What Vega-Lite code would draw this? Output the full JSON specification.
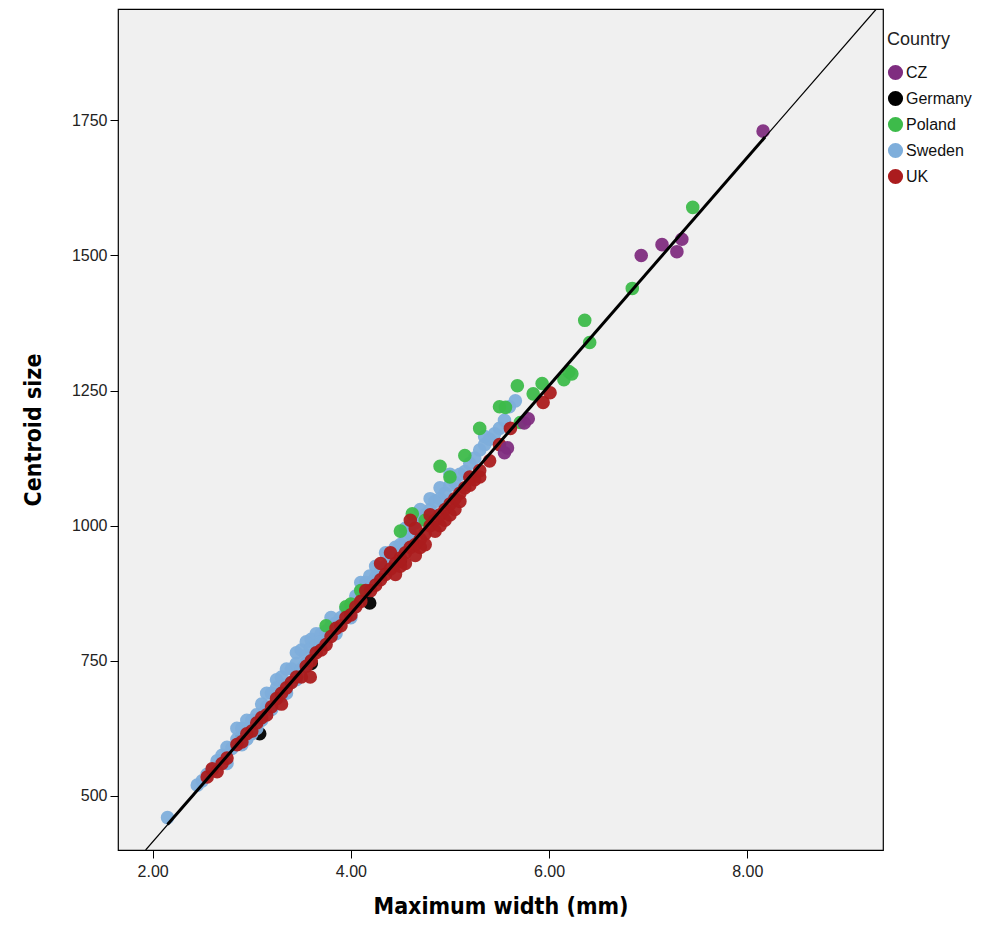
{
  "$schema": "https://vega.github.io/schema/vega-lite/v6.json",
  "width": 765,
  "height": 841,
  "autosize": {"type": "none"},
  "padding": {"left": 118, "top": 9, "right": 115, "bottom": 89},
  "background": "#ffffff",
  "config": {
    "view": {"fill": "#f0f0f0", "stroke": "#000000", "strokeWidth": 1.2},
    "font": "Liberation Sans",
    "axis": {
      "domain": false,
      "grid": false,
      "ticks": true,
      "tickColor": "#000000",
      "tickSize": 8,
      "labelFont": "Liberation Sans",
      "labelFontSize": 16,
      "labelColor": "#222222",
      "titleFont": "Liberation Sans Narrow, DejaVu Sans Condensed, Liberation Sans",
      "titleFontSize": 23,
      "titleFontWeight": "bold",
      "titleColor": "#000000"
    },
    "legend": {
      "titleFont": "Liberation Sans",
      "titleFontSize": 18,
      "titleFontWeight": "normal",
      "titleColor": "#222222",
      "labelFont": "Liberation Sans",
      "labelFontSize": 16,
      "labelColor": "#111111"
    }
  },
  "datasets": {
    "pts": [
      {"c": "Germany", "w": 3.08, "cs": 615},
      {"c": "Germany", "w": 4.19, "cs": 857},
      {"c": "Germany", "w": 3.6, "cs": 745},
      {"c": "Germany", "w": 2.9, "cs": 610},
      {"c": "Germany", "w": 4.5, "cs": 935},
      {"c": "Sweden", "w": 2.15, "cs": 460},
      {"c": "Sweden", "w": 2.45, "cs": 520},
      {"c": "Sweden", "w": 2.5, "cs": 528},
      {"c": "Sweden", "w": 2.55, "cs": 540},
      {"c": "Sweden", "w": 2.6, "cs": 548},
      {"c": "Sweden", "w": 2.65, "cs": 565},
      {"c": "Sweden", "w": 2.7, "cs": 575},
      {"c": "Sweden", "w": 2.75, "cs": 590},
      {"c": "Sweden", "w": 2.75, "cs": 560},
      {"c": "Sweden", "w": 2.8, "cs": 588},
      {"c": "Sweden", "w": 2.85, "cs": 605},
      {"c": "Sweden", "w": 2.85, "cs": 625},
      {"c": "Sweden", "w": 2.9, "cs": 625},
      {"c": "Sweden", "w": 2.9, "cs": 595},
      {"c": "Sweden", "w": 2.95, "cs": 605},
      {"c": "Sweden", "w": 2.95, "cs": 640},
      {"c": "Sweden", "w": 3.0, "cs": 640},
      {"c": "Sweden", "w": 3.0, "cs": 615},
      {"c": "Sweden", "w": 3.05, "cs": 650},
      {"c": "Sweden", "w": 3.05, "cs": 625},
      {"c": "Sweden", "w": 3.1, "cs": 640},
      {"c": "Sweden", "w": 3.1, "cs": 670},
      {"c": "Sweden", "w": 3.15, "cs": 665},
      {"c": "Sweden", "w": 3.15, "cs": 690},
      {"c": "Sweden", "w": 3.2, "cs": 690},
      {"c": "Sweden", "w": 3.2, "cs": 660},
      {"c": "Sweden", "w": 3.25, "cs": 700},
      {"c": "Sweden", "w": 3.25, "cs": 715},
      {"c": "Sweden", "w": 3.3, "cs": 685},
      {"c": "Sweden", "w": 3.3, "cs": 720},
      {"c": "Sweden", "w": 3.35, "cs": 705},
      {"c": "Sweden", "w": 3.35, "cs": 690},
      {"c": "Sweden", "w": 3.35, "cs": 735},
      {"c": "Sweden", "w": 3.4, "cs": 735},
      {"c": "Sweden", "w": 3.4, "cs": 710},
      {"c": "Sweden", "w": 3.45, "cs": 745},
      {"c": "Sweden", "w": 3.45, "cs": 715},
      {"c": "Sweden", "w": 3.45, "cs": 765},
      {"c": "Sweden", "w": 3.5, "cs": 735},
      {"c": "Sweden", "w": 3.5, "cs": 770},
      {"c": "Sweden", "w": 3.55, "cs": 760},
      {"c": "Sweden", "w": 3.55, "cs": 745},
      {"c": "Sweden", "w": 3.55, "cs": 785},
      {"c": "Sweden", "w": 3.6, "cs": 775},
      {"c": "Sweden", "w": 3.6, "cs": 790},
      {"c": "Sweden", "w": 3.65, "cs": 780},
      {"c": "Sweden", "w": 3.65, "cs": 800},
      {"c": "Sweden", "w": 3.7, "cs": 800},
      {"c": "Sweden", "w": 3.7, "cs": 785},
      {"c": "Sweden", "w": 3.75, "cs": 805},
      {"c": "Sweden", "w": 3.8, "cs": 815},
      {"c": "Sweden", "w": 3.8, "cs": 830},
      {"c": "Sweden", "w": 3.85, "cs": 820},
      {"c": "Sweden", "w": 3.85, "cs": 800},
      {"c": "Sweden", "w": 3.9, "cs": 830},
      {"c": "Sweden", "w": 3.95, "cs": 845},
      {"c": "Sweden", "w": 4.0, "cs": 850},
      {"c": "Sweden", "w": 4.0, "cs": 830},
      {"c": "Sweden", "w": 4.05, "cs": 870},
      {"c": "Sweden", "w": 4.1, "cs": 880},
      {"c": "Sweden", "w": 4.1, "cs": 895},
      {"c": "Sweden", "w": 4.15, "cs": 895},
      {"c": "Sweden", "w": 4.19, "cs": 907},
      {"c": "Sweden", "w": 4.2, "cs": 890},
      {"c": "Sweden", "w": 4.25, "cs": 905},
      {"c": "Sweden", "w": 4.25, "cs": 925},
      {"c": "Sweden", "w": 4.3, "cs": 915},
      {"c": "Sweden", "w": 4.35, "cs": 925},
      {"c": "Sweden", "w": 4.35, "cs": 950},
      {"c": "Sweden", "w": 4.4, "cs": 940},
      {"c": "Sweden", "w": 4.45, "cs": 960},
      {"c": "Sweden", "w": 4.5, "cs": 965},
      {"c": "Sweden", "w": 4.55, "cs": 975},
      {"c": "Sweden", "w": 4.55, "cs": 995},
      {"c": "Sweden", "w": 4.6, "cs": 985},
      {"c": "Sweden", "w": 4.6, "cs": 1000},
      {"c": "Sweden", "w": 4.65, "cs": 1005},
      {"c": "Sweden", "w": 4.7, "cs": 1010},
      {"c": "Sweden", "w": 4.7, "cs": 1030},
      {"c": "Sweden", "w": 4.75, "cs": 1020},
      {"c": "Sweden", "w": 4.8, "cs": 1030},
      {"c": "Sweden", "w": 4.8, "cs": 1050},
      {"c": "Sweden", "w": 4.85, "cs": 1045},
      {"c": "Sweden", "w": 4.9, "cs": 1050},
      {"c": "Sweden", "w": 4.9, "cs": 1070},
      {"c": "Sweden", "w": 4.95, "cs": 1060},
      {"c": "Sweden", "w": 5.0, "cs": 1075},
      {"c": "Sweden", "w": 5.0, "cs": 1095},
      {"c": "Sweden", "w": 5.05, "cs": 1080},
      {"c": "Sweden", "w": 5.1, "cs": 1095},
      {"c": "Sweden", "w": 5.15, "cs": 1100},
      {"c": "Sweden", "w": 5.2, "cs": 1115},
      {"c": "Sweden", "w": 5.25, "cs": 1125},
      {"c": "Sweden", "w": 5.3, "cs": 1140},
      {"c": "Sweden", "w": 5.35, "cs": 1150},
      {"c": "Sweden", "w": 5.35, "cs": 1165},
      {"c": "Sweden", "w": 5.4, "cs": 1160},
      {"c": "Sweden", "w": 5.45, "cs": 1170},
      {"c": "Sweden", "w": 5.5, "cs": 1180},
      {"c": "Sweden", "w": 5.55, "cs": 1195},
      {"c": "Sweden", "w": 5.6, "cs": 1220},
      {"c": "Sweden", "w": 5.66, "cs": 1231},
      {"c": "Poland", "w": 3.75, "cs": 815},
      {"c": "Poland", "w": 3.95, "cs": 850},
      {"c": "Poland", "w": 4.0, "cs": 855},
      {"c": "Poland", "w": 4.1, "cs": 880},
      {"c": "Poland", "w": 4.5, "cs": 990},
      {"c": "Poland", "w": 4.62, "cs": 1022},
      {"c": "Poland", "w": 4.75, "cs": 1010},
      {"c": "Poland", "w": 4.9, "cs": 1110},
      {"c": "Poland", "w": 5.0, "cs": 1090},
      {"c": "Poland", "w": 5.15, "cs": 1130},
      {"c": "Poland", "w": 5.3, "cs": 1180},
      {"c": "Poland", "w": 5.5, "cs": 1220},
      {"c": "Poland", "w": 5.56, "cs": 1219},
      {"c": "Poland", "w": 5.68, "cs": 1259},
      {"c": "Poland", "w": 5.71, "cs": 1191},
      {"c": "Poland", "w": 5.84, "cs": 1244},
      {"c": "Poland", "w": 5.93, "cs": 1263},
      {"c": "Poland", "w": 6.15, "cs": 1270},
      {"c": "Poland", "w": 6.2, "cs": 1285},
      {"c": "Poland", "w": 6.23, "cs": 1281},
      {"c": "Poland", "w": 6.36, "cs": 1380},
      {"c": "Poland", "w": 6.41, "cs": 1339},
      {"c": "Poland", "w": 6.84, "cs": 1439},
      {"c": "Poland", "w": 7.45, "cs": 1589},
      {"c": "UK", "w": 2.55, "cs": 535},
      {"c": "UK", "w": 2.6, "cs": 550},
      {"c": "UK", "w": 2.65, "cs": 545},
      {"c": "UK", "w": 2.7, "cs": 560},
      {"c": "UK", "w": 2.75, "cs": 570},
      {"c": "UK", "w": 2.85, "cs": 595},
      {"c": "UK", "w": 2.9, "cs": 600},
      {"c": "UK", "w": 2.95, "cs": 615},
      {"c": "UK", "w": 3.0, "cs": 620},
      {"c": "UK", "w": 3.05, "cs": 635},
      {"c": "UK", "w": 3.1, "cs": 645},
      {"c": "UK", "w": 3.15, "cs": 650},
      {"c": "UK", "w": 3.2, "cs": 665},
      {"c": "UK", "w": 3.25, "cs": 680},
      {"c": "UK", "w": 3.3, "cs": 690},
      {"c": "UK", "w": 3.3, "cs": 670},
      {"c": "UK", "w": 3.35, "cs": 700},
      {"c": "UK", "w": 3.4, "cs": 710},
      {"c": "UK", "w": 3.45, "cs": 720},
      {"c": "UK", "w": 3.5, "cs": 720},
      {"c": "UK", "w": 3.55, "cs": 740},
      {"c": "UK", "w": 3.59, "cs": 720},
      {"c": "UK", "w": 3.6, "cs": 750},
      {"c": "UK", "w": 3.65, "cs": 765},
      {"c": "UK", "w": 3.7, "cs": 770},
      {"c": "UK", "w": 3.75, "cs": 780},
      {"c": "UK", "w": 3.8, "cs": 795},
      {"c": "UK", "w": 3.85, "cs": 810},
      {"c": "UK", "w": 3.9, "cs": 815},
      {"c": "UK", "w": 3.95, "cs": 830},
      {"c": "UK", "w": 4.0, "cs": 835},
      {"c": "UK", "w": 4.05, "cs": 850},
      {"c": "UK", "w": 4.1, "cs": 860},
      {"c": "UK", "w": 4.15, "cs": 880},
      {"c": "UK", "w": 4.2, "cs": 880},
      {"c": "UK", "w": 4.25, "cs": 890},
      {"c": "UK", "w": 4.3, "cs": 900},
      {"c": "UK", "w": 4.3, "cs": 930},
      {"c": "UK", "w": 4.35, "cs": 910},
      {"c": "UK", "w": 4.4, "cs": 920},
      {"c": "UK", "w": 4.4, "cs": 950},
      {"c": "UK", "w": 4.45, "cs": 930},
      {"c": "UK", "w": 4.45, "cs": 910},
      {"c": "UK", "w": 4.5, "cs": 940},
      {"c": "UK", "w": 4.5, "cs": 925},
      {"c": "UK", "w": 4.55, "cs": 950},
      {"c": "UK", "w": 4.55, "cs": 930},
      {"c": "UK", "w": 4.6, "cs": 960},
      {"c": "UK", "w": 4.6, "cs": 1010},
      {"c": "UK", "w": 4.65, "cs": 965},
      {"c": "UK", "w": 4.65, "cs": 945},
      {"c": "UK", "w": 4.65, "cs": 995},
      {"c": "UK", "w": 4.7, "cs": 975},
      {"c": "UK", "w": 4.7, "cs": 960},
      {"c": "UK", "w": 4.75, "cs": 985},
      {"c": "UK", "w": 4.75, "cs": 965},
      {"c": "UK", "w": 4.8, "cs": 1000},
      {"c": "UK", "w": 4.8, "cs": 1020},
      {"c": "UK", "w": 4.85, "cs": 1010},
      {"c": "UK", "w": 4.85, "cs": 990},
      {"c": "UK", "w": 4.9, "cs": 1020},
      {"c": "UK", "w": 4.9, "cs": 1000},
      {"c": "UK", "w": 4.95, "cs": 1030},
      {"c": "UK", "w": 4.95, "cs": 1010},
      {"c": "UK", "w": 5.0, "cs": 1040},
      {"c": "UK", "w": 5.0, "cs": 1020},
      {"c": "UK", "w": 5.05, "cs": 1050},
      {"c": "UK", "w": 5.05, "cs": 1030},
      {"c": "UK", "w": 5.1, "cs": 1060},
      {"c": "UK", "w": 5.1, "cs": 1045},
      {"c": "UK", "w": 5.15, "cs": 1070},
      {"c": "UK", "w": 5.2, "cs": 1075},
      {"c": "UK", "w": 5.2, "cs": 1090},
      {"c": "UK", "w": 5.25, "cs": 1085},
      {"c": "UK", "w": 5.3, "cs": 1090},
      {"c": "UK", "w": 5.3, "cs": 1102},
      {"c": "UK", "w": 5.4, "cs": 1120},
      {"c": "UK", "w": 5.5, "cs": 1150},
      {"c": "UK", "w": 5.61, "cs": 1180},
      {"c": "UK", "w": 5.94, "cs": 1228},
      {"c": "UK", "w": 6.01, "cs": 1246},
      {"c": "CZ", "w": 5.55, "cs": 1135},
      {"c": "CZ", "w": 5.58, "cs": 1144},
      {"c": "CZ", "w": 5.75, "cs": 1190},
      {"c": "CZ", "w": 5.79, "cs": 1198},
      {"c": "CZ", "w": 6.93, "cs": 1500},
      {"c": "CZ", "w": 7.14, "cs": 1520},
      {"c": "CZ", "w": 7.29, "cs": 1507},
      {"c": "CZ", "w": 7.34, "cs": 1530},
      {"c": "CZ", "w": 8.16, "cs": 1730}
    ],
    "refline": [
      {"w": 1.929, "cs": 400},
      {"w": 9.303, "cs": 1956}
    ],
    "fitline": [
      {"w": 2.15, "cs": 447},
      {"w": 8.18, "cs": 1719}
    ]
  },
  "layer": [
    {
      "data": {"name": "pts"},
      "mark": {"type": "circle", "size": 185, "opacity": 0.95, "clip": true},
      "encoding": {
        "x": {
          "field": "w", "type": "quantitative",
          "scale": {"domain": [1.65, 9.37], "nice": false, "zero": false},
          "axis": {"values": [2, 4, 6, 8], "format": ".2f", "title": "Maximum width (mm)", "titlePadding": 16, "labelPadding": 5}
        },
        "y": {
          "field": "cs", "type": "quantitative",
          "scale": {"domain": [400, 1956], "nice": false, "zero": false},
          "axis": {"values": [500, 750, 1000, 1250, 1500, 1750], "format": "d", "title": "Centroid size", "titlePadding": 26, "labelPadding": 3}
        },
        "color": {
          "field": "c", "type": "nominal", "title": "Country",
          "scale": {
            "domain": ["CZ", "Germany", "Poland", "Sweden", "UK"],
            "range": ["#7f2d80", "#000000", "#3dbb4a", "#7eaedb", "#ab1c1e"]
          },
          "legend": {
            "orient": "none", "legendX": 769, "legendY": 22,
            "symbolType": "circle", "symbolSize": 230, "symbolOpacity": 1,
            "rowPadding": 9, "titlePadding": 15, "labelOffset": 2, "symbolOffset": 0
          }
        }
      }
    },
    {
      "data": {"name": "refline"},
      "mark": {"type": "line", "color": "#000000", "strokeWidth": 1.2, "clip": true},
      "encoding": {
        "x": {"field": "w", "type": "quantitative"},
        "y": {"field": "cs", "type": "quantitative"}
      }
    },
    {
      "data": {"name": "fitline"},
      "mark": {"type": "line", "color": "#000000", "strokeWidth": 3, "clip": true},
      "encoding": {
        "x": {"field": "w", "type": "quantitative"},
        "y": {"field": "cs", "type": "quantitative"}
      }
    }
  ]
}
